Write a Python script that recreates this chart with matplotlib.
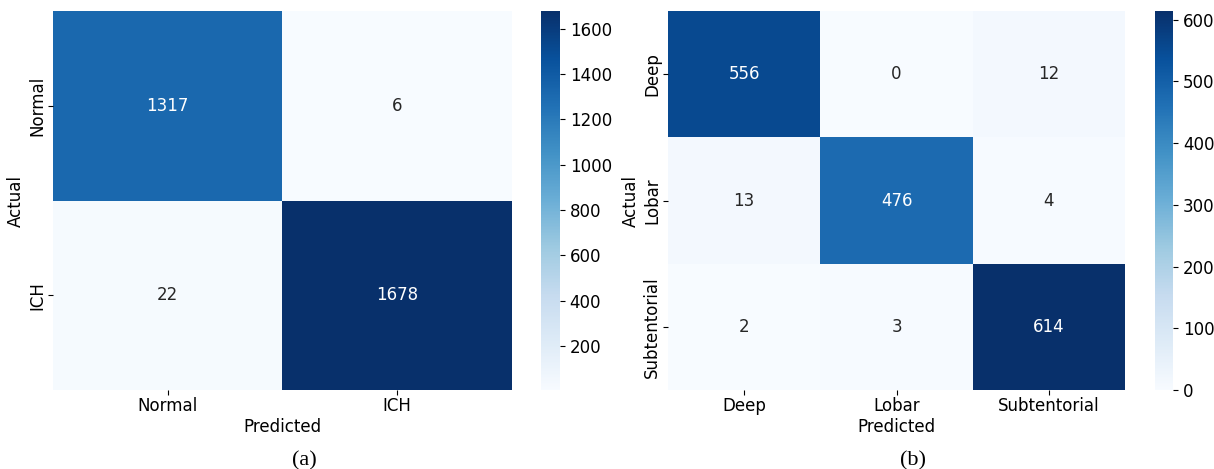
import numpy as np
import matplotlib
matplotlib.use("Agg")
import matplotlib.pyplot as plt
import seaborn as sns

labels_a = ["Normal", "ICH"]
cm_a = [[1317, 6],
        [22, 1678]]
labels_b = ["Deep", "Lobar", "Subtentorial"]
cm_b = [[556, 0, 12],
        [13, 476, 4],
        [2, 3, 614]]
cbar_ticks_a = [200, 400, 600, 800, 1000, 1200, 1400, 1600]
cbar_ticks_b = [0, 100, 200, 300, 400, 500, 600]

FS = 12
fig = plt.figure(figsize=(12.14, 4.69), dpi=100)

ax_a = fig.add_axes([0.0437, 0.1684, 0.3780, 0.8081])
cax_a = fig.add_axes([0.4456, 0.1684, 0.0157, 0.8081])
ax_b = fig.add_axes([0.5503, 0.1684, 0.3764, 0.8081])
cax_b = fig.add_axes([0.9514, 0.1684, 0.0150, 0.8081])

for ax, cax, cm, labs, ticks in [(ax_a, cax_a, cm_a, labels_a, cbar_ticks_a),
                                  (ax_b, cax_b, cm_b, labels_b, cbar_ticks_b)]:
    sns.heatmap(np.array(cm), annot=True, fmt="d", cmap="Blues", ax=ax, cbar_ax=cax,
                xticklabels=labs, yticklabels=labs, annot_kws={"fontsize": FS})
    ax.tick_params(axis="both", labelsize=FS, pad=1.5)
    ax.set_xlabel("Predicted", fontsize=FS, labelpad=2)
    ax.set_ylabel("Actual", fontsize=FS, labelpad=2)
    plt.setp(ax.get_yticklabels(), rotation=90, va="center")
    cax.set_yticks(ticks)
    cax.tick_params(labelsize=FS)

fig.text(0.251, 0.018, "(a)", fontsize=16, family="Liberation Serif", ha="center", va="center")
fig.text(0.752, 0.018, "(b)", fontsize=16, family="Liberation Serif", ha="center", va="center")

fig.savefig("out.png", dpi=100)
